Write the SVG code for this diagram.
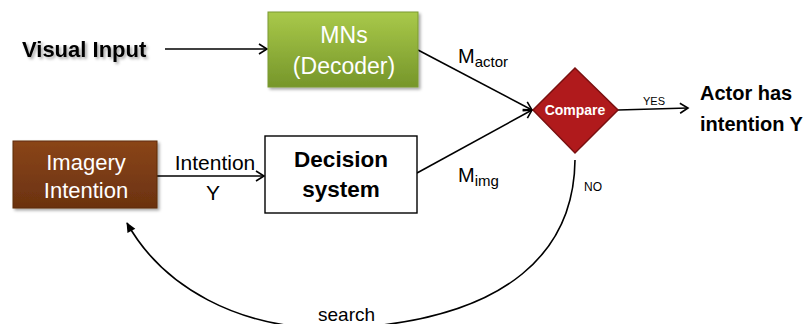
<svg xmlns="http://www.w3.org/2000/svg" width="811" height="324" viewBox="0 0 811 324">
<defs>
<style>
.t{font-family:"Liberation Sans",Arial,sans-serif;fill:#000}
.b{font-weight:bold}
.w{fill:#fff}
.ln{stroke:#000;stroke-width:1.6;fill:none}
</style>
<linearGradient id="gGreen" x1="0" y1="0" x2="0" y2="1">
<stop offset="0" stop-color="#a9c94a"/><stop offset="1" stop-color="#76962a"/>
</linearGradient>
<linearGradient id="gBrown" x1="0" y1="0" x2="0" y2="1">
<stop offset="0" stop-color="#8a4518"/><stop offset="1" stop-color="#6b3210"/>
</linearGradient>
<marker id="open" markerWidth="12" markerHeight="12" refX="10" refY="6" orient="auto" markerUnits="userSpaceOnUse">
<path d="M2,1 L10,6 L2,11" fill="none" stroke="#000" stroke-width="1.6"/>
</marker>
<marker id="fill" markerWidth="12" markerHeight="12" refX="10" refY="6" orient="auto" markerUnits="userSpaceOnUse">
<path d="M1,1.5 L11,6 L1,10.5 Z" fill="#000"/>
</marker>
<filter id="sh" x="-10%" y="-10%" width="130%" height="130%">
<feDropShadow dx="2" dy="2" stdDeviation="1.5" flood-color="#000" flood-opacity="0.35"/>
</filter>
</defs>
<rect width="811" height="324" fill="#fff"/>
<g id="connectors">
<line class="ln" x1="165" y1="49" x2="267" y2="49" marker-end="url(#open)"/>
<line class="ln" x1="157" y1="176" x2="264" y2="176" marker-end="url(#open)"/>
<line class="ln" x1="418" y1="50" x2="532" y2="110" marker-end="url(#open)"/>
<line class="ln" x1="417" y1="173" x2="532" y2="110" marker-end="url(#open)"/>
<line class="ln" x1="618" y1="110" x2="688" y2="108" marker-end="url(#open)"/>
<path class="ln" d="M575,160 C574,250 510,318 350,328 C235,334 160,282 127,223" marker-end="url(#fill)"/>
<text class="t" x="458" y="63" font-size="20">M<tspan font-size="15" dy="4">actor</tspan></text>
<text class="t" x="458" y="182" font-size="20">M<tspan font-size="15" dy="4">img</tspan></text>
<text class="t" x="643" y="105" font-size="11">YES</text>
<text class="t" x="584" y="191" font-size="12">NO</text>
<text class="t" x="318" y="321" font-size="19">search</text>
<text class="t" x="215" y="170" font-size="21" text-anchor="middle">Intention</text>
<text class="t" x="213" y="200" font-size="21" text-anchor="middle">Y</text>
</g>
<g id="visual-input">
<text class="t b" x="22" y="57" font-size="22" filter="url(#sh)">Visual Input</text>
</g>
<g id="mns">
<rect x="268" y="12" width="150" height="75" fill="url(#gGreen)" stroke="#7a9a30" stroke-width="1" filter="url(#sh)"/>
<text class="t w" x="344" y="43" font-size="23" text-anchor="middle">MNs</text>
<text class="t w" x="344" y="74" font-size="23" text-anchor="middle">(Decoder)</text>
</g>
<g id="imagery">
<rect x="13" y="141" width="144" height="67" fill="url(#gBrown)" stroke="#5e2c0c" stroke-width="1" filter="url(#sh)"/>
<text class="t w" x="86" y="170" font-size="22" text-anchor="middle">Imagery</text>
<text class="t w" x="86" y="198" font-size="22" text-anchor="middle">Intention</text>
</g>
<g id="decision">
<rect x="265" y="136" width="152" height="77" fill="#fff" stroke="#000" stroke-width="1.4"/>
<text class="t b" x="341" y="167" font-size="22.5" text-anchor="middle">Decision</text>
<text class="t b" x="341" y="197" font-size="22.5" text-anchor="middle">system</text>
</g>
<g id="compare">
<polygon points="533,110 575,68 618,110 575,153" fill="#b01a1c" stroke="#7a1010" stroke-width="1.5"/>
<text class="t b w" x="575" y="115" font-size="14" text-anchor="middle">Compare</text>
</g>
<g id="result">
<text class="t b" x="700" y="100" font-size="20">Actor has</text>
<text class="t b" x="700" y="131" font-size="20">intention Y</text>
</g>
</svg>
